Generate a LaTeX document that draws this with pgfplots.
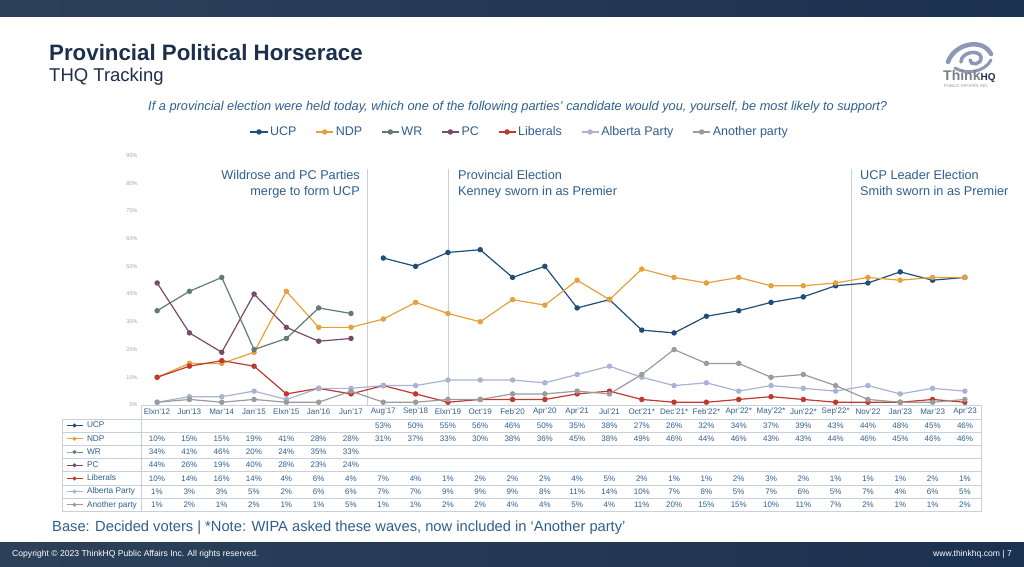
\documentclass[border=0pt]{standalone}
\usepackage{pgfplots}
\usepackage{pgfplotstable}
\pgfplotsset{compat=1.18}
\usepackage{fontspec}
\setmainfont{Liberation Sans}
\definecolor{ucp}{HTML}{1F4E79}
\definecolor{ndp}{HTML}{E6A03C}
\definecolor{wr}{HTML}{5F7D72}
\definecolor{pc}{HTML}{7A4A6A}
\definecolor{lib}{HTML}{C0392F}
\definecolor{ab}{HTML}{A9B3D5}
\definecolor{oth}{HTML}{9B9B9B}
\definecolor{textblue}{HTML}{2F5F8F}
\definecolor{titlenavy}{HTML}{1C2F4D}
\definecolor{bandA}{HTML}{2C4159}
\definecolor{bandB}{HTML}{1B3150}
\definecolor{grid}{HTML}{C9D0DD}
\definecolor{logo}{HTML}{8C98B6}
\definecolor{logogray}{HTML}{7C7F86}

\pgfplotstableread{
i ucp ndp wr pc lib ab oth
0 nan 10 34 44 10 1 1
1 nan 15 41 26 14 3 2
2 nan 15 46 19 16 3 1
3 nan 19 20 40 14 5 2
4 nan 41 24 28 4 2 1
5 nan 28 35 23 6 6 1
6 nan 28 33 24 4 6 5
7 53 31 nan nan 7 7 1
8 50 37 nan nan 4 7 1
9 55 33 nan nan 1 9 2
10 56 30 nan nan 2 9 2
11 46 38 nan nan 2 9 4
12 50 36 nan nan 2 8 4
13 35 45 nan nan 4 11 5
14 38 38 nan nan 5 14 4
15 27 49 nan nan 2 10 11
16 26 46 nan nan 1 7 20
17 32 44 nan nan 1 8 15
18 34 46 nan nan 2 5 15
19 37 43 nan nan 3 7 10
20 39 43 nan nan 2 6 11
21 43 44 nan nan 1 5 7
22 44 46 nan nan 1 7 2
23 48 45 nan nan 1 4 1
24 45 46 nan nan 2 6 1
25 46 46 nan nan 1 5 2
}\data

\begin{document}
\begin{tikzpicture}[x=1pt,y=1pt]
\useasboundingbox (0,0) rectangle (1024,566);
\fill[white] (0,0) rectangle (1024,566);
\shade[left color=bandA, right color=bandB] (0,549) rectangle (1024,566);
\shade[left color=bandA, right color=bandB] (0,0) rectangle (1024,24);

\begin{axis}[
  at={(141pt,161pt)}, anchor=south west,
  scale only axis, width=840pt, height=249.6pt,
  xmin=-0.5, xmax=25.5, ymin=0, ymax=90,
  axis line style={draw=none},
  xtick=\empty,
  ytick={0,10,...,90},
  yticklabels={0\%,10\%,20\%,30\%,40\%,50\%,60\%,70\%,80\%,90\%},
  yticklabel style={font=\fontsize{5.5}{6}\selectfont, text=black!35},
  major tick length=0pt,
  clip=false,
  every axis plot/.append style={line width=1.2pt, mark=*, mark size=2.1pt},
  legend columns=-1,
  legend style={at={(0.451,1.094)}, anchor=center, draw=none, fill=none,
    font=\fontsize{12.5}{14}\selectfont, text=textblue,
    /tikz/every even column/.append style={column sep=17pt}},
]
\draw[grid, line width=0.7pt] (axis cs:6.5,0) -- (axis cs:6.5,85);
\draw[grid, line width=0.7pt] (axis cs:9,0) -- (axis cs:9,85);
\draw[grid, line width=0.7pt] (axis cs:21.5,0) -- (axis cs:21.5,85);
\addplot[color=ucp, mark options={fill=ucp}] table[x=i,y=ucp] {\data};
\addlegendentry{UCP}
\addplot[color=ndp, mark options={fill=ndp}] table[x=i,y=ndp] {\data};
\addlegendentry{NDP}
\addplot[color=wr, mark options={fill=wr}] table[x=i,y=wr] {\data};
\addlegendentry{WR}
\addplot[color=pc, mark options={fill=pc}] table[x=i,y=pc] {\data};
\addlegendentry{PC}
\addplot[color=lib, mark options={fill=lib}] table[x=i,y=lib] {\data};
\addlegendentry{Liberals}
\addplot[color=ab, mark options={fill=ab}] table[x=i,y=ab] {\data};
\addlegendentry{Alberta Party}
\addplot[color=oth, mark options={fill=oth}] table[x=i,y=oth] {\data};
\addlegendentry{Another party}
\end{axis}

% table legend column
\begin{axis}[
  at={(66pt,147pt)}, anchor=north west,
  scale only axis, width=70pt, height=92.4pt,
  xmin=0, xmax=1, ymin=0, ymax=1, hide axis,
  legend cell align=left,
  legend image code/.code={\draw[mark repeat=2,mark phase=2,#1] plot coordinates {(0pt,0pt)(8pt,0pt)(16pt,0pt)};},
  legend style={at={(0,1)}, anchor=north west, draw=none, fill=none,
    inner sep=0pt, outer sep=0pt, row sep=0pt,
    font=\fontsize{8.3}{9}\selectfont, text=textblue,
    nodes={inner sep=0pt, text height=8.8pt, text depth=4.4pt},
    /tikz/every odd column/.append style={column sep=4pt}},
]
\addlegendimage{ucp, line width=1pt, mark=*, mark size=1.4pt, mark options={fill=ucp}}
\addlegendentry{UCP}
\addlegendimage{ndp, line width=1pt, mark=*, mark size=1.4pt, mark options={fill=ndp}}
\addlegendentry{NDP}
\addlegendimage{wr, line width=1pt, mark=*, mark size=1.4pt, mark options={fill=wr}}
\addlegendentry{WR}
\addlegendimage{pc, line width=1pt, mark=*, mark size=1.4pt, mark options={fill=pc}}
\addlegendentry{PC}
\addlegendimage{lib, line width=1pt, mark=*, mark size=1.4pt, mark options={fill=lib}}
\addlegendentry{Liberals}
\addlegendimage{ab, line width=1pt, mark=*, mark size=1.4pt, mark options={fill=ab}}
\addlegendentry{Alberta Party}
\addlegendimage{oth, line width=1pt, mark=*, mark size=1.4pt, mark options={fill=oth}}
\addlegendentry{Another party}
\end{axis}

\begin{scope}[shift={(0pt,566pt)}, y=-1pt]
% title
\node[anchor=base west, inner sep=0pt, text=titlenavy, font=\bfseries\fontsize{22.3}{26}\selectfont] at (49,61) {Provincial Political Horserace};
\node[anchor=base west, inner sep=0pt, text=titlenavy, font=\fontsize{18.5}{22}\selectfont] at (49,82) {THQ Tracking};
\node[anchor=base west, inner sep=0pt, text=textblue, font=\itshape\fontsize{12.8}{14}\selectfont] at (148,111) {If a provincial election were held today, which one of the following parties' candidate would you, yourself, be most likely to support?};

% annotations
\node[anchor=north east, align=right, inner sep=0pt, text=textblue, font=\fontsize{12.7}{16}\selectfont] at (360,170) {Wildrose and PC Parties\\merge to form UCP};
\node[anchor=north west, align=left, inner sep=0pt, text=textblue, font=\fontsize{12.7}{16}\selectfont] at (458,170) {Provincial Election\\Kenney sworn in as Premier};
\node[anchor=north west, align=left, inner sep=0pt, text=textblue, font=\fontsize{12.7}{16}\selectfont] at (860,170) {UCP Leader Election\\Smith sworn in as Premier};

% table grid
\draw[grid, line width=0.7pt] (141,405) -- (981,405) -- (981,511.4) -- (62,511.4) -- (62,419) -- (141,419);
\draw[grid, line width=0.7pt] (141,405) -- (141,511.4);
\foreach \r in {0,...,6} {\draw[grid, line width=0.7pt] (62,{419+13.2*\r}) -- (981,{419+13.2*\r});}

% header
\foreach \lab [count=\i from 0] in {Elxn'12,Jun'13,Mar'14,Jan'15,Elxn'15,Jan'16,Jun'17,Aug'17,Sep'18,Elxn'19,Oct'19,Feb'20,Apr'20,Apr'21,Jul'21,Oct'21*,Dec'21*,Feb'22*,Apr'22*,May'22*,Jun'22*,Sep'22*,Nov'22,Jan'23,Mar'23,Apr'23}
  {\node[text=textblue, font=\fontsize{8}{9}\selectfont, inner sep=0pt] at ({157+32.32*\i},412) {\lab};}
% rows
\tikzset{cell/.style={text=textblue, font=\fontsize{8}{9}\selectfont, inner sep=0pt}}
\foreach \v [count=\i from 7] in {53,50,55,56,46,50,35,38,27,26,32,34,37,39,43,44,48,45,46}
  {\node[cell] at ({157+32.32*\i},425.6) {\v\%};}
\foreach \v [count=\i from 0] in {10,15,15,19,41,28,28,31,37,33,30,38,36,45,38,49,46,44,46,43,43,44,46,45,46,46}
  {\node[cell] at ({157+32.32*\i},438.8) {\v\%};}
\foreach \v [count=\i from 0] in {34,41,46,20,24,35,33}
  {\node[cell] at ({157+32.32*\i},452) {\v\%};}
\foreach \v [count=\i from 0] in {44,26,19,40,28,23,24}
  {\node[cell] at ({157+32.32*\i},465.2) {\v\%};}
\foreach \v [count=\i from 0] in {10,14,16,14,4,6,4,7,4,1,2,2,2,4,5,2,1,1,2,3,2,1,1,1,2,1}
  {\node[cell] at ({157+32.32*\i},478.4) {\v\%};}
\foreach \v [count=\i from 0] in {1,3,3,5,2,6,6,7,7,9,9,9,8,11,14,10,7,8,5,7,6,5,7,4,6,5}
  {\node[cell] at ({157+32.32*\i},491.6) {\v\%};}
\foreach \v [count=\i from 0] in {1,2,1,2,1,1,5,1,1,2,2,4,4,5,4,11,20,15,15,10,11,7,2,1,1,2}
  {\node[cell] at ({157+32.32*\i},504.8) {\v\%};}

% footnote
\node[anchor=base west, inner sep=0pt, text=textblue, font=\fontsize{14.7}{16}\selectfont] at (52,531) {Base: Decided voters | *Note: WIPA asked these waves, now included in `Another party'};
% footer
\node[anchor=west, inner sep=0pt, text=white, font=\fontsize{8.6}{10}\selectfont] at (12,554) {Copyright \textcopyright{} 2023 ThinkHQ Public Affairs Inc. All rights reserved.};
\node[anchor=east, inner sep=0pt, text=white, font=\fontsize{8.6}{10}\selectfont] at (1012,554) {www.thinkhq.com | 7};

% logo
\draw[logo, line width=4.5pt, line cap=round] (948,62) .. controls (954,44) and (982,37) .. (991,54);
\draw[logo, line width=3.5pt, line cap=round] (961,62) .. controls (961,52) and (979,49) .. (981,57) .. controls (982,65) and (970,66) .. (970,60);
\draw[logo, line width=3pt, line cap=round] (955,68) .. controls (966,75) and (985,72) .. (991,60);
\node[anchor=base west, inner sep=0pt, font=\bfseries\fontsize{14}{16}\selectfont] at (943,81) {\textcolor{logogray}{Think}\textcolor{titlenavy}{\fontsize{10}{12}\selectfont HQ}};
\node[anchor=base west, inner sep=0pt, text=logo, font=\fontsize{4.3}{5}\selectfont] at (944,88) {PUBLIC AFFAIRS INC.};
\end{scope}
\end{tikzpicture}
\end{document}
